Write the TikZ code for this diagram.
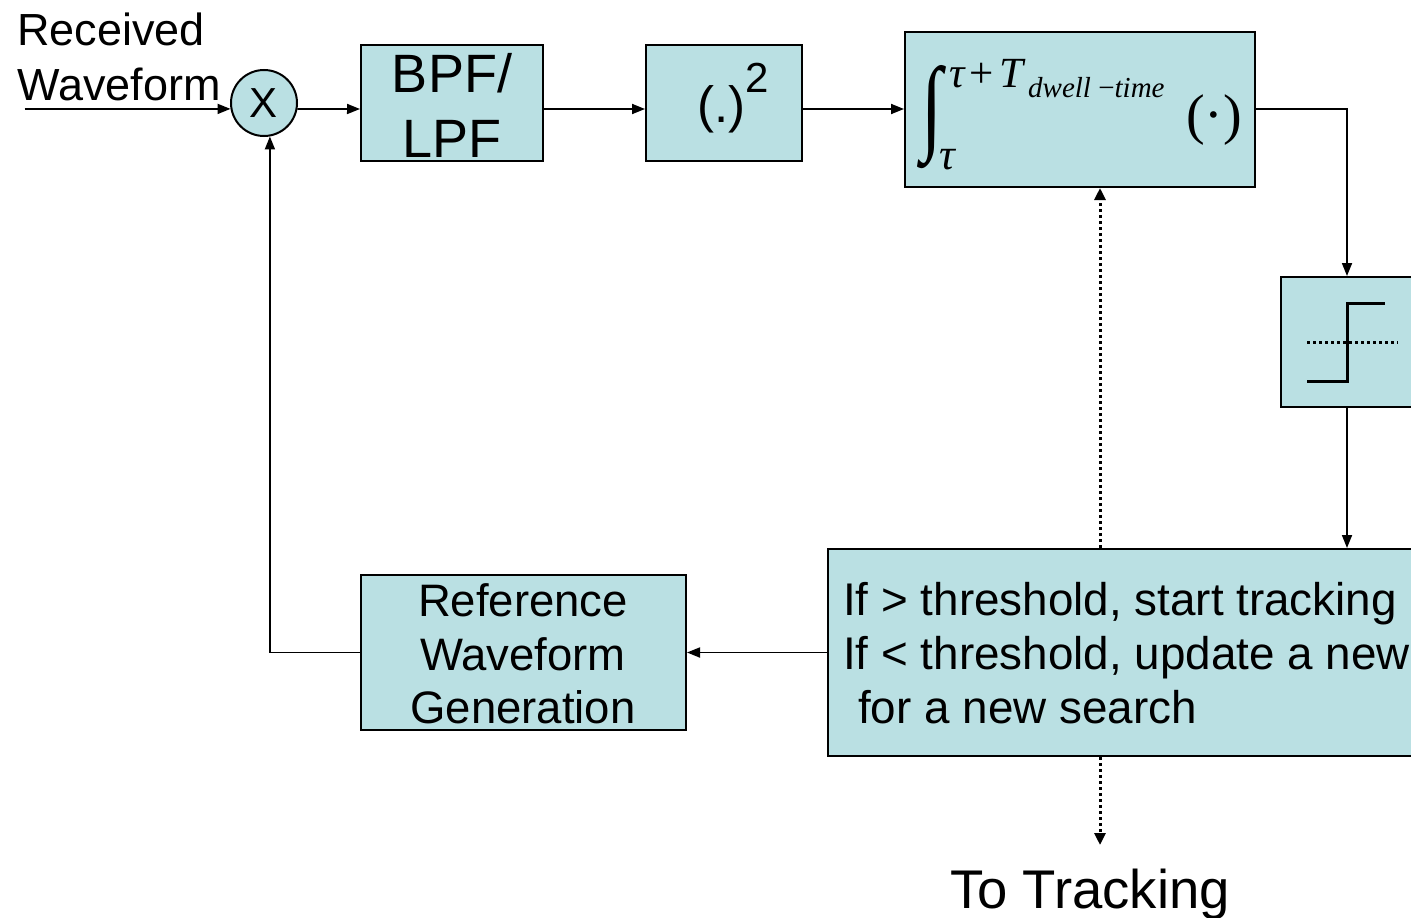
\documentclass[tikz,border=0pt]{standalone}
\usepackage{fontspec}
\setmainfont{Liberation Sans}
\newfontfamily\tms{Liberation Serif}
\usepackage{graphicx}
\usetikzlibrary{arrows.meta}
\definecolor{boxfill}{RGB}{186,224,227}

\newcommand{\fs}[1]{\fontsize{#1}{#1}\selectfont}

\begin{document}
\begin{tikzpicture}[x=1pt,y=-1pt,
  blk/.style={draw=black, line width=2pt, fill=boxfill, inner sep=0pt},
  link/.style={line width=1.8pt, -{Triangle[length=13pt,width=10pt]}},
  dots/.style={line width=3pt, dash pattern=on 3pt off 3pt,
               -{Triangle[length=12pt,width=11pt]}},
  txt/.style={inner sep=0pt, anchor=base west},
  ctxt/.style={inner sep=0pt, anchor=base},
]
\useasboundingbox (0,0) rectangle (1411,918);
\clip (0,0) rectangle (1411,918);

% input label
\node[txt] (rx1) at (17,45) {\fs{45}Received};
\node[txt] (rx2) at (17,100) {\fs{45}Waveform};
\coordinate (src) at (25,109);

% mixer
\node[blk, circle, minimum size=66pt] (mult) at (264,103) {\fs{42}X};

% processing chain
\node[blk, minimum width=182pt, minimum height=116pt] (bpf) at (452,103) {};
\node[ctxt] (bpf1) at (452,92) {\fs{54}BPF/};
\node[ctxt] (bpf2) at (452,157) {\fs{54}LPF};

\node[blk, minimum width=156pt, minimum height=116pt] (sq) at (724,103) {};
\node[txt] (sqtxt) at (697,122) {\fs{51}(.)\raisebox{30pt}{\fs{42}2}};

\node[blk, minimum width=350pt, minimum height=155pt] (integ) at (1080,109.5) {};
\node[inner sep=0pt] (intsign) at (931.5,117) {\resizebox{21pt}{75pt}{\tms ∫}};
\node[txt] (upper) at (949,87) {\tms\fs{43}\textit{τ}\kern4pt+\kern5pt\textit{T}};
\node[txt] (dwell) at (1028,97) {\tms\fs{29}\textit{dwell} −\textit{time}};
\node[txt] (lower) at (939,169) {\tms\fs{44}\textit{τ}};
\node[txt] (arg) at (1186,133) {\tms\fs{56}(·)};

% threshold comparator
\node[blk, minimum width=132pt, minimum height=130pt] (thr) at (1347,342) {};
\begin{scope}[shift={(thr.center)}]
  \draw[line width=3pt] (-40,39) -- (0,39) -- (0,-39) -- (38,-39);
  \draw[line width=3pt, dash pattern=on 3pt off 3pt] (-40,0) -- (51,0);
\end{scope}

% decision
\node[blk, minimum width=612pt, minimum height=207pt] (dec) at (1134,652.5) {};
\node[txt] (d1) at (843,615) {\fs{45.8}If > threshold, start tracking};
\node[txt] (d2) at (843,669) {\fs{45.8}If < threshold, update a new};
\node[txt] (d3) at (858,723) {\fs{45.8}for a new search};

% reference generator
\node[blk, minimum width=325pt, minimum height=155pt] (ref) at (523.5,652.5) {};
\node[ctxt] (r1) at (523,616) {\fs{45.5}Reference};
\node[ctxt] (r2) at (523,670) {\fs{45.5}Waveform};
\node[ctxt] (r3) at (523,723) {\fs{45.5}Generation};

% output label
\node[txt] (track) at (950,908) {\fs{54.5}To Tracking};
\coordinate (tap) at (1100,0);
\coordinate (out) at (1100,845);

% connectors
\draw[link] (src) -- (mult.190);
\draw[link] (mult.-10) -- (bpf.west |- src);
\draw[link] (bpf.east |- src) -- (sq.west |- src);
\draw[link] (sq.east |- src) -- (integ.west |- src);
\draw[link] (integ.east |- src) -| (thr.north);
\draw[link] (thr.south) -- (thr.south |- dec.north);
\draw[link] (dec.west) -- (ref.east);
\draw[link] (ref.west) -| (mult.280);
\draw[dots] (tap |- dec.north) -- (tap |- integ.south);
\draw[dots] (tap |- dec.south) -- (out);
\end{tikzpicture}
\end{document}
